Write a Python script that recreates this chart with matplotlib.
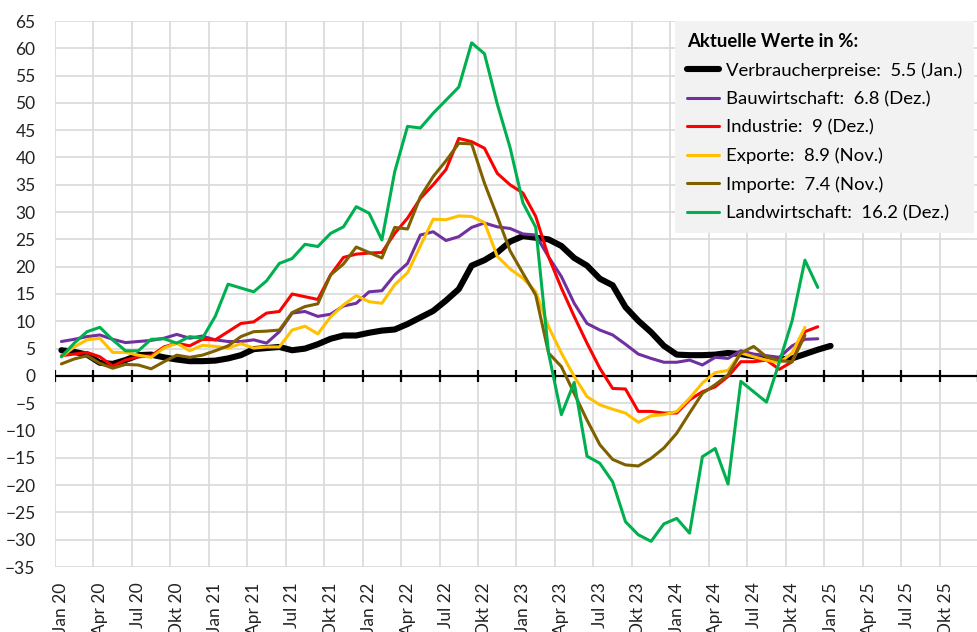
import numpy as np
import matplotlib.pyplot as plt

plt.rcParams['font.family'] = ['Lato', 'DejaVu Sans']

# x-Achse: Monate Jan 20 - Dez 25, Beschriftung jedes Quartal
monate = ["Jan", "Apr", "Jul", "Okt"]
jahre = ["20", "21", "22", "23", "24", "25"]
tick_labels = [m + " " + j for j in jahre for m in monate]
n_monate = 72

# Werte in % (Jan 20 ...)
verbraucherpreise = [4.7, 4.4, 3.9, 2.4, 2.2, 2.9, 3.8, 3.9, 3.4, 3.0, 2.7, 2.7,
                     2.8, 3.2, 3.8, 4.9, 5.1, 5.3, 4.7, 5.0, 5.8, 6.8, 7.4, 7.4,
                     7.9, 8.3, 8.5, 9.5, 10.7, 11.9, 13.8, 15.9, 20.2, 21.2, 22.6, 24.6,
                     25.6, 25.3, 25.0, 23.8, 21.6, 20.2, 17.8, 16.6, 12.6, 10.1, 8.0, 5.5,
                     3.9, 3.8, 3.8, 3.9, 4.2, 4.0, 3.6, 3.3, 3.0, 3.2, 4.0, 4.8, 5.5]
bauwirtschaft = [6.3, 6.7, 7.2, 7.5, 6.7, 6.1, 6.3, 6.5, 6.9, 7.6, 6.9, 7.3,
                 6.6, 6.3, 6.3, 6.6, 6.0, 8.1, 11.5, 11.8, 10.9, 11.3, 12.8, 13.3,
                 15.4, 15.6, 18.5, 20.6, 25.8, 26.4, 24.8, 25.5, 27.2, 28.0, 27.3, 27.0,
                 26.0, 25.8, 21.8, 18.2, 13.3, 9.6, 8.4, 7.5, 5.8, 4.0, 3.2, 2.5,
                 2.5, 2.9, 2.0, 3.4, 3.2, 4.6, 4.0, 3.7, 3.4, 5.5, 6.7, 6.8]
industrie = [3.7, 4.0, 4.3, 3.5, 1.8, 2.9, 3.5, 3.7, 5.3, 6.0, 5.5, 6.7,
             6.6, 8.1, 9.6, 9.9, 11.5, 11.8, 15.0, 14.5, 14.0, 18.5, 21.7, 22.3,
             22.5, 22.6, 26.1, 28.9, 32.5, 35.0, 37.8, 43.5, 42.9, 41.7, 37.1, 35.0,
             33.5, 29.2, 21.8, 16.1, 10.9, 6.0, 1.4, -2.3, -2.4, -6.5, -6.5, -6.8,
             -6.8, -4.4, -2.9, -2.0, -0.1, 2.6, 2.6, 2.9, 1.2, 2.6, 8.1, 9.0]
exporte = [3.5, 5.3, 6.6, 6.9, 4.3, 4.3, 3.8, 3.4, 5.1, 6.0, 4.6, 5.6,
           5.4, 5.1, 5.9, 5.1, 5.3, 5.3, 8.4, 9.1, 7.7, 10.8, 13.0, 14.7,
           13.6, 13.3, 16.7, 18.9, 23.8, 28.7, 28.6, 29.3, 29.2, 28.1, 21.9, 19.6,
           17.9, 15.4, 9.0, 4.2, -0.1, -3.8, -5.3, -6.1, -6.8, -8.5, -7.3, -7.1,
           -6.5, -4.1, -1.3, 0.6, 1.0, 4.2, 3.5, 2.9, 2.4, 4.2, 8.9]
importe = [2.2, 3.1, 3.7, 2.3, 1.4, 2.1, 2.0, 1.3, 2.6, 3.8, 3.4, 3.8,
           4.6, 5.5, 7.2, 8.1, 8.2, 8.4, 11.6, 12.7, 13.2, 18.5, 20.5, 23.6,
           22.6, 21.6, 27.2, 26.9, 32.8, 36.5, 39.4, 42.6, 42.5, 35.3, 29.2, 22.9,
           18.8, 14.8, 4.2, 1.7, -3.2, -8.1, -12.6, -15.3, -16.3, -16.5, -15.1, -13.2,
           -10.5, -6.8, -3.2, -1.6, 0.2, 4.2, 5.4, 3.5, 2.8, 2.6, 7.4]
landwirtschaft = [3.5, 6.0, 8.1, 8.9, 6.6, 4.6, 4.6, 6.7, 6.8, 6.0, 7.2, 6.9,
                  10.9, 16.8, 16.1, 15.4, 17.4, 20.6, 21.5, 24.1, 23.7, 26.1, 27.3, 31.0,
                  29.8, 24.9, 37.4, 45.7, 45.4, 48.1, 50.5, 52.9, 61.0, 59.0, 49.8, 41.8,
                  31.7, 27.2, 4.2, -7.1, -1.2, -14.7, -16.0, -19.4, -26.7, -29.1, -30.3, -27.1,
                  -26.1, -28.8, -14.8, -13.3, -19.8, -1.0, -2.9, -4.8, 2.5, 10.1, 21.2, 16.2]

serien = [
    ("Verbraucherpreise:  5.5 (Jan.)", verbraucherpreise, "black", 4.4),
    ("Bauwirtschaft:  6.8 (Dez.)", bauwirtschaft, "#7030A0", 2.2),
    ("Industrie:  9 (Dez.)", industrie, "#FF0000", 2.2),
    ("Exporte:  8.9 (Nov.)", exporte, "#FFC000", 2.2),
    ("Importe:  7.4 (Nov.)", importe, "#7F6000", 2.2),
    ("Landwirtschaft:  16.2 (Dez.)", landwirtschaft, "#00B050", 2.2),
]

fig = plt.figure(figsize=(9.78, 6.32), dpi=100)
# Plotbereich ist rechts abgeschnitten wie im Original
ax = fig.add_axes([55 / 978, 65 / 632, 923 / 978, 546 / 632])

for name, werte, farbe, lw in serien:
    ax.plot(np.arange(len(werte)), werte, color=farbe, lw=lw, label=name,
            solid_capstyle='round', zorder=3)

ax.set_xlim(-0.5, -0.5 + 923 / 12.945)
ax.set_ylim(-35, 65)
ax.set_yticks(np.arange(-35, 66, 5))
ax.set_xticks(np.arange(0, n_monate, 3))
ax.set_xticklabels(tick_labels, rotation=90)
ax.set_xticks(np.arange(-0.5, n_monate, 3), minor=True)

ax.grid(axis='y', which='major', color='#D9D9D9', lw=1.2)
ax.grid(axis='x', which='minor', color='#D9D9D9', lw=1.2)
ax.tick_params(axis='both', which='both', length=0, labelsize=12.5, colors='#222222')
ax.tick_params(axis='x', pad=11)
ax.tick_params(axis='y', pad=14)
for s in ax.spines.values():
    s.set_visible(False)

# Nulllinie mit Quartals-Strichen
ax.axhline(0, color='black', lw=1.6, zorder=2)
grenzen = np.arange(-0.5, n_monate, 3)
ax.plot(grenzen, np.zeros(len(grenzen)), ls='none', marker='|', ms=9, mew=1.6,
        color='black', zorder=2, clip_on=True)

leg = ax.legend(loc='upper left', bbox_to_anchor=(675 / 978, 1 - 21 / 632),
                bbox_transform=fig.transFigure, title='Aktuelle Werte in %:',
                frameon=True, facecolor='#F2F2F2', edgecolor='none', fancybox=False,
                framealpha=1, prop={'size': 13.3}, alignment='left',
                title_fontproperties={'weight': 'bold', 'size': 13.3},
                handlelength=1.75, handletextpad=0.35, labelspacing=0.66,
                borderpad=0.65, borderaxespad=0)
leg.get_frame().set_linewidth(0)

fig.savefig('out.png', dpi=100)
